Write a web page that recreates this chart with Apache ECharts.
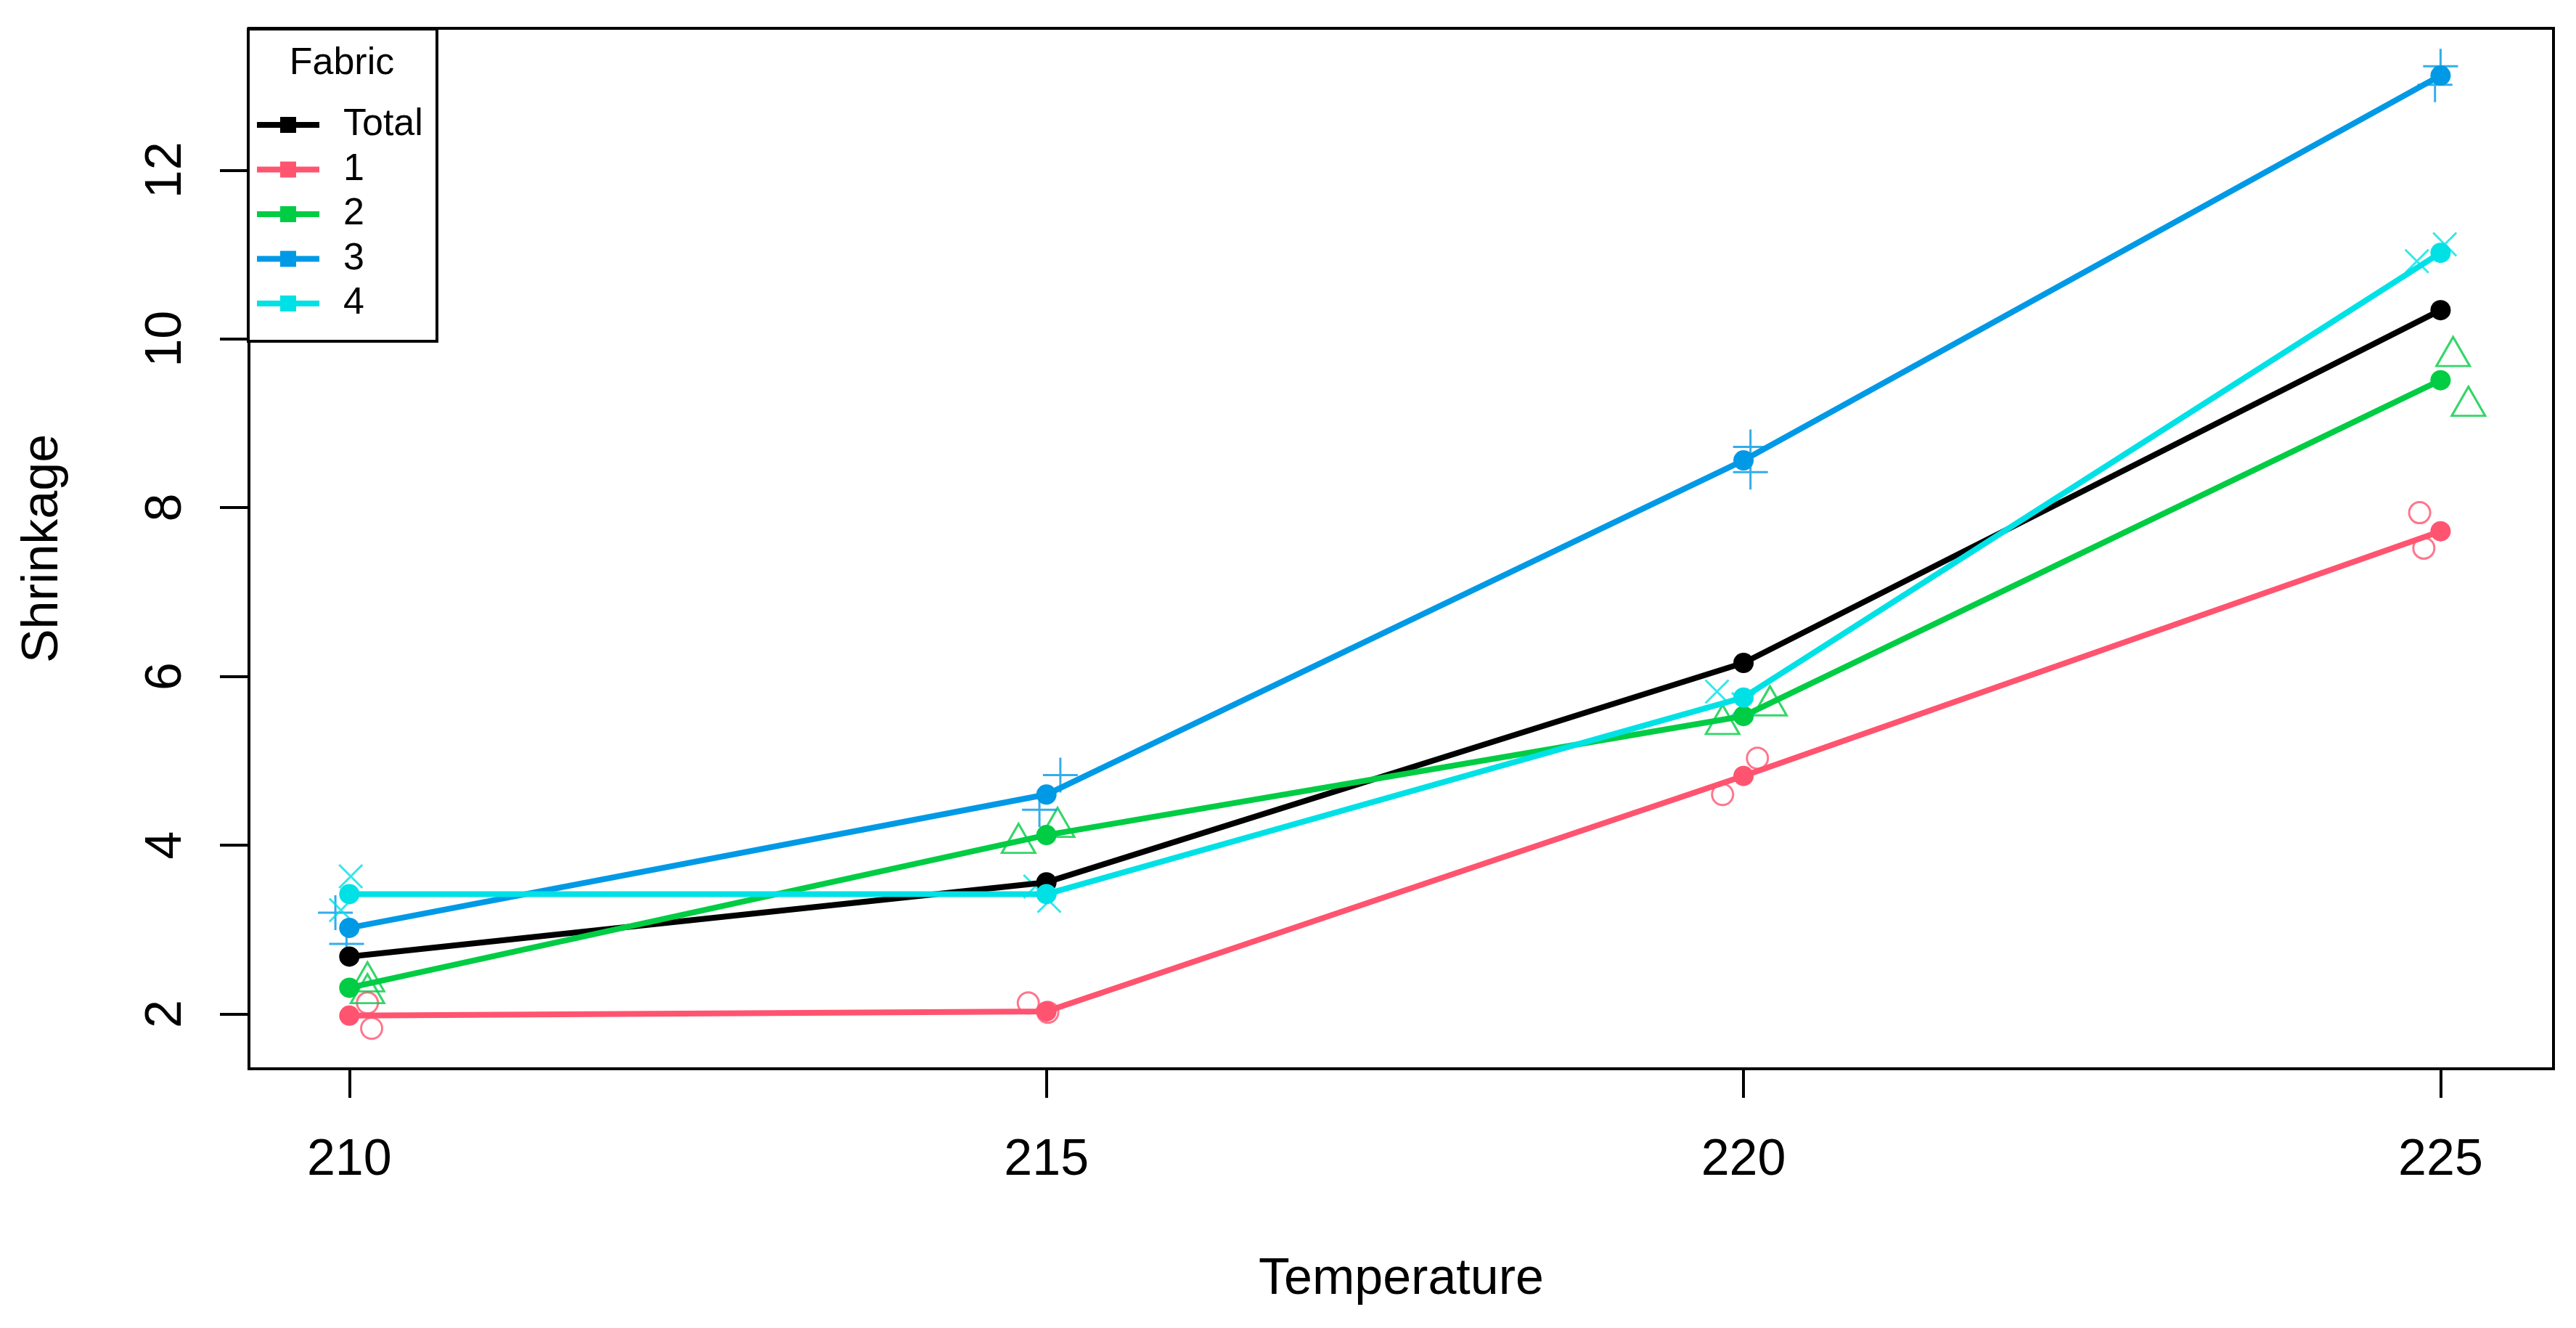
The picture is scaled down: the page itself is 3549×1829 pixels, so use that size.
<!DOCTYPE html>
<html>
<head>
<meta charset="utf-8">
<script src="https://cdn.jsdelivr.net/npm/echarts@6/dist/echarts.min.js"></script>
<style>
html,body{margin:0;padding:0;background:#fff;}
#chart{width:3549px;height:1829px;}
</style>
</head>
<body>
<div id="chart"></div>
<script>
// ---- data ----
const temperatures = [210, 215, 220, 225];
const xTicks = [210, 215, 220, 225];
const yTicks = [2, 4, 6, 8, 10, 12];
const seriesNames = ['Total', '1', '2', '3', '4'];

// mean shrinkage per temperature
const meanTotal = [2.68, 3.56, 6.16, 10.34];
const meanFabric1 = [1.98, 2.03, 4.82, 7.72];
const meanFabric2 = [2.31, 4.12, 5.53, 9.51];
const meanFabric3 = [3.02, 4.60, 8.56, 13.12];
const meanFabric4 = [3.42, 3.42, 5.75, 11.02];

// individual (jittered) observations: [temperature, shrinkage]
const obsFabric1 = [[210.13, 2.13], [210.16, 1.83], [214.87, 2.13], [215.01, 2.02],
                    [220.10, 5.03], [219.85, 4.60], [224.85, 7.94], [224.88, 7.52]];
const obsFabric2 = [[210.13, 2.38], [210.13, 2.24], [215.08, 4.21], [214.80, 4.02],
                    [220.19, 5.65], [219.85, 5.43], [225.09, 9.79], [225.20, 9.20]];
const obsFabric3 = [[209.90, 3.20], [209.98, 2.83], [215.10, 4.83], [214.95, 4.42],
                    [220.05, 8.72], [220.05, 8.42], [225.00, 13.23], [224.96, 13.01]];
const obsFabric4 = [[210.01, 3.63], [209.94, 3.23], [214.92, 3.51], [215.02, 3.34],
                    [219.81, 5.82], [220.00, 5.67], [225.03, 11.12], [224.83, 10.92]];

// ---- styling ----
const colors = ['#000000', '#FF5470', '#00CC44', '#0099E6', '#00E1E6'];
const FONT = "'Liberation Sans', Arial, sans-serif";
const means = [meanTotal, meanFabric1, meanFabric2, meanFabric3, meanFabric4];
const obs = [obsFabric1, obsFabric2, obsFabric3, obsFabric4];
const obsSymbols = [
  {symbol: 'circle', size: 29, offset: [0, 0]},
  {symbol: 'path://M0,86.6L50,0L100,86.6Z', size: [46, 40], offset: [0, -7]},
  {symbol: 'path://M0,50L100,50M50,0L50,100', size: 48, offset: [0, 0]},
  {symbol: 'path://M0,0L100,100M100,0L0,100', size: 32, offset: [0, 0]}
];

const series = [];
obs.forEach((d, i) => {
  series.push({
    type: 'scatter',
    name: 'obs' + (i + 1),
    data: d,
    symbol: obsSymbols[i].symbol,
    symbolSize: obsSymbols[i].size,
    symbolOffset: obsSymbols[i].offset,
    itemStyle: {color: 'transparent', borderColor: colors[i + 1], borderWidth: 3},
    z: 1,
    silent: true
  });
});
means.forEach((m, i) => {
  series.push({
    type: 'line',
    name: seriesNames[i],
    data: temperatures.map((t, k) => [t, m[k]]),
    symbol: 'circle',
    symbolSize: 28,
    showSymbol: true,
    lineStyle: {color: colors[i], width: 8},
    itemStyle: {color: colors[i]},
    z: 2 + i,
    silent: true
  });
});

const legendIcon = 'path://M0,7L86,7L86,15L0,15ZM32,0L54,0L54,22L32,22Z';

const chart = echarts.init(document.getElementById('chart'), null, {renderer: 'canvas'});
chart.setOption({
  animation: false,
  backgroundColor: '#ffffff',
  grid: {left: 343, right: 31, top: 39, bottom: 357, show: true, borderColor: '#000', borderWidth: 4, backgroundColor: 'transparent'},
  xAxis: {
    type: 'value', min: 209.28, max: 225.81,
    name: 'Temperature', nameLocation: 'middle', nameGap: 291,
    nameTextStyle: {fontFamily: FONT, fontSize: 70, color: '#000', verticalAlign: 'middle'},
    axisLine: {show: false},
    splitLine: {show: false},
    axisTick: {show: true, customValues: xTicks, length: 40, lineStyle: {color: '#000', width: 4}},
    axisLabel: {customValues: xTicks, fontFamily: FONT, fontSize: 70, color: '#000', margin: 92}
  },
  yAxis: {
    type: 'value', min: 1.35, max: 13.68,
    name: 'Shrinkage', nameLocation: 'middle', nameGap: 283,
    nameTextStyle: {fontFamily: FONT, fontSize: 70, color: '#000', verticalAlign: 'middle'},
    axisLine: {show: false},
    splitLine: {show: false},
    axisTick: {show: true, customValues: yTicks, length: 40, lineStyle: {color: '#000', width: 4}},
    axisLabel: {customValues: yTicks, rotate: 90, fontFamily: FONT, fontSize: 70, color: '#000', margin: 78}
  },
  legend: {
    orient: 'vertical', left: 354, top: 146, padding: 0,
    itemWidth: 86, itemHeight: 22, itemGap: 9.5,
    data: seriesNames.map(n => ({name: n, icon: legendIcon})),
    textStyle: {fontFamily: FONT, fontSize: 52, color: '#000', lineHeight: 52, padding: [0, 0, 0, 28]},
    selectedMode: false,
    z: 10
  },
  graphic: [
    {type: 'rect', shape: {x: 342, y: 40, width: 260, height: 430}, style: {fill: '#fff', stroke: '#000', lineWidth: 4}, z: 8},
    {type: 'text', x: 471, y: 88, style: {text: 'Fabric', fontFamily: FONT, fontSize: 52, fill: '#000', align: 'center', verticalAlign: 'middle'}, z: 9}
  ],
  series: series
});
</script>
</body>
</html>
